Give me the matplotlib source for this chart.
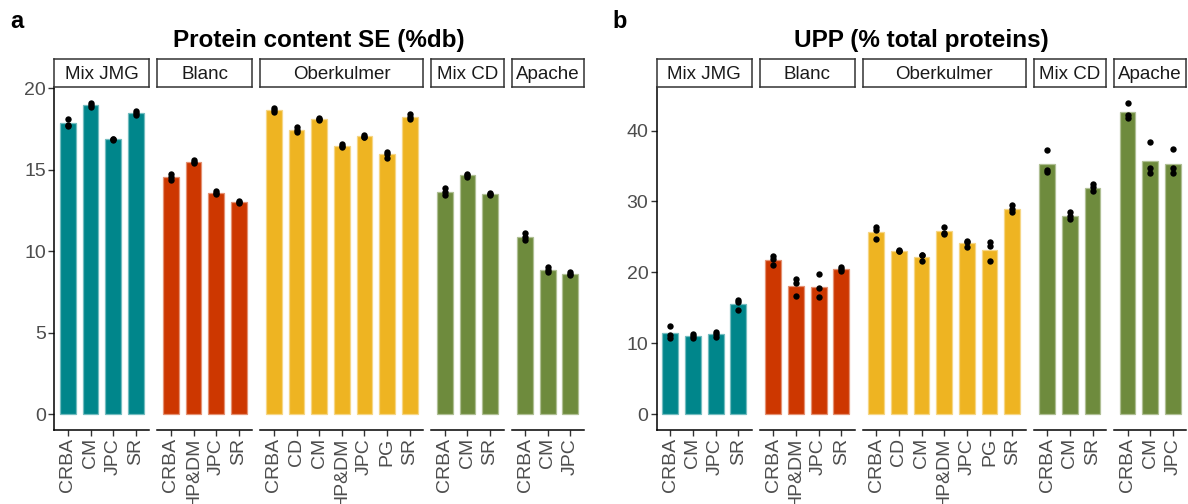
import matplotlib
matplotlib.use("Agg")
import matplotlib.pyplot as plt
import matplotlib.colors as mcolors
import numpy as np

plt.rcParams["font.family"] = ["Liberation Sans", "DejaVu Sans"]

# facets (wheat varieties) and the sites inside each one
varieties = ["Mix JMG", "Blanc", "Oberkulmer", "Mix CD", "Apache"]
sites = [
    ["CRBA", "CM", "JPC", "SR"],
    ["CRBA", "HP&DM", "JPC", "SR"],
    ["CRBA", "CD", "CM", "HP&DM", "JPC", "PG", "SR"],
    ["CRBA", "CM", "SR"],
    ["CRBA", "CM", "JPC"],
]
variety_colors = ["#00868B", "#CD3700", "#EEB422", "#6E8B3D", "#6E8B3D"]

# panel a: protein content SE (%db), bar = mean, points = replicates
protein_mean = [
    [17.85, 18.99, 16.88, 18.50],
    [14.55, 15.50, 13.60, 13.02],
    [18.66, 17.45, 18.13, 16.47, 17.05, 15.94, 18.22],
    [13.65, 14.67, 13.50],
    [10.90, 8.86, 8.62],
]
protein_reps = [
    [[18.12, 17.75, 17.68], [19.11, 19.00, 18.87], [16.92, 16.88, 16.85], [18.63, 18.50, 18.38]],
    [[14.75, 14.54, 14.36], [15.61, 15.50, 15.40], [13.68, 13.60, 13.52], [13.07, 13.02, 12.95]],
    [[18.78, 18.65, 18.56], [17.60, 17.45, 17.33], [18.19, 18.13, 18.07], [16.57, 16.47, 16.37],
     [17.12, 17.04, 17.00], [16.12, 15.94, 15.75], [18.40, 18.25, 18.09]],
    [[13.89, 13.62, 13.48], [14.75, 14.67, 14.58], [13.56, 13.50, 13.45]],
    [[11.12, 10.90, 10.71], [9.05, 8.85, 8.70], [8.70, 8.60, 8.55]],
]

# panel b: UPP (% total proteins)
upp_mean = [
    [11.40, 11.02, 11.28, 15.50],
    [21.70, 18.05, 17.97, 20.45],
    [25.70, 23.06, 22.20, 25.80, 24.10, 23.20, 28.97],
    [35.30, 28.00, 31.95],
    [42.60, 35.65, 35.30],
]
upp_reps = [
    [[12.40, 11.10, 10.70], [11.30, 11.00, 10.75], [11.60, 11.30, 10.90], [16.10, 15.77, 14.75]],
    [[22.25, 21.90, 20.99], [19.10, 18.50, 16.60], [19.72, 17.74, 16.50], [20.80, 20.40, 20.20]],
    [[26.40, 26.00, 24.70], [23.20, 23.05, 22.95], [22.50, 22.45, 21.65], [26.36, 25.60, 25.46],
     [24.43, 24.30, 23.58], [24.30, 23.77, 21.56], [29.50, 29.00, 28.47]],
    [[37.19, 34.50, 34.20], [28.47, 28.00, 27.54], [32.48, 32.00, 31.44]],
    [[43.90, 42.20, 41.75], [38.36, 34.65, 33.94], [37.33, 34.65, 33.94]],
]

W, H = 1188, 504
UNIT = 22.66       # px per discrete step
GAP = 7.8          # px between facets
PANEL_TOP, PANEL_BOTTOM = 87.3, 429.7
STRIP_H = 28.0
TICK_GREY = "#4D4D4D"

fig = plt.figure(figsize=(W / 100, H / 100), dpi=100)


def lighter(c, amount=0.45):
    r, g, b = mcolors.to_rgb(c)
    return (r + (1 - r) * amount, g + (1 - g) * amount, b + (1 - b) * amount)


def draw_panel(x0, letter, title, means, reps, yticks):
    ymax = max(max(max(p) for p in grp) for grp in reps)
    ylim = (-0.05 * ymax, 1.05 * ymax)
    x = x0
    for i, name in enumerate(varieties):
        n = len(sites[i])
        w = (n + 0.2) * UNIT
        ax = fig.add_axes([x / W, 1 - PANEL_BOTTOM / H, w / W, (PANEL_BOTTOM - PANEL_TOP) / H])
        pos = np.arange(n)
        col = variety_colors[i]
        ax.bar(pos, means[i], width=0.7, color=col, edgecolor=lighter(col), linewidth=0.9, zorder=2)
        for j, p in enumerate(reps[i]):
            ax.scatter([j] * len(p), p, s=21, color="black", linewidths=0, zorder=3)
        ax.set_xlim(-0.6, n - 0.4)
        ax.set_ylim(ylim)
        ax.set_xticks(pos, sites[i], rotation=90)
        for s in ("top", "right"):
            ax.spines[s].set_visible(False)
        ax.spines["bottom"].set_linewidth(1.1)
        ax.tick_params(axis="both", direction="out", length=4, width=1, color="#333333",
                       labelcolor=TICK_GREY, labelsize=14, pad=2)
        if i == 0:
            ax.spines["left"].set_linewidth(1.1)
            ax.set_yticks(yticks)
        else:
            ax.spines["left"].set_visible(False)
            ax.set_yticks([])

        # facet strip
        sx = fig.add_axes([x / W, 1 - (PANEL_TOP - 0.5) / H, w / W, STRIP_H / H])
        sx.set_xticks([]); sx.set_yticks([])
        for s in sx.spines.values():
            s.set_color("#333333")
            s.set_linewidth(1.1)
        sx.text(0.5, 0.45, name, ha="center", va="center", fontsize=13.5, color="#1A1A1A",
                transform=sx.transAxes)
        x += w + GAP
    x_end = x - GAP
    fig.text((x0 + x_end) / 2 / W, 1 - 47 / H, title, ha="center", va="baseline",
             fontsize=17.5, fontweight="bold")
    fig.text((x0 - 37) / W, 1 - 28 / H, letter, ha="center", va="baseline",
             fontsize=17, fontweight="bold")


draw_panel(54.3, "a", "Protein content SE (%db)", protein_mean, protein_reps, [0, 5, 10, 15, 20])
draw_panel(656.7, "b", "UPP (% total proteins)", upp_mean, upp_reps, [0, 10, 20, 30, 40])

fig.savefig("out.png", dpi=100)
